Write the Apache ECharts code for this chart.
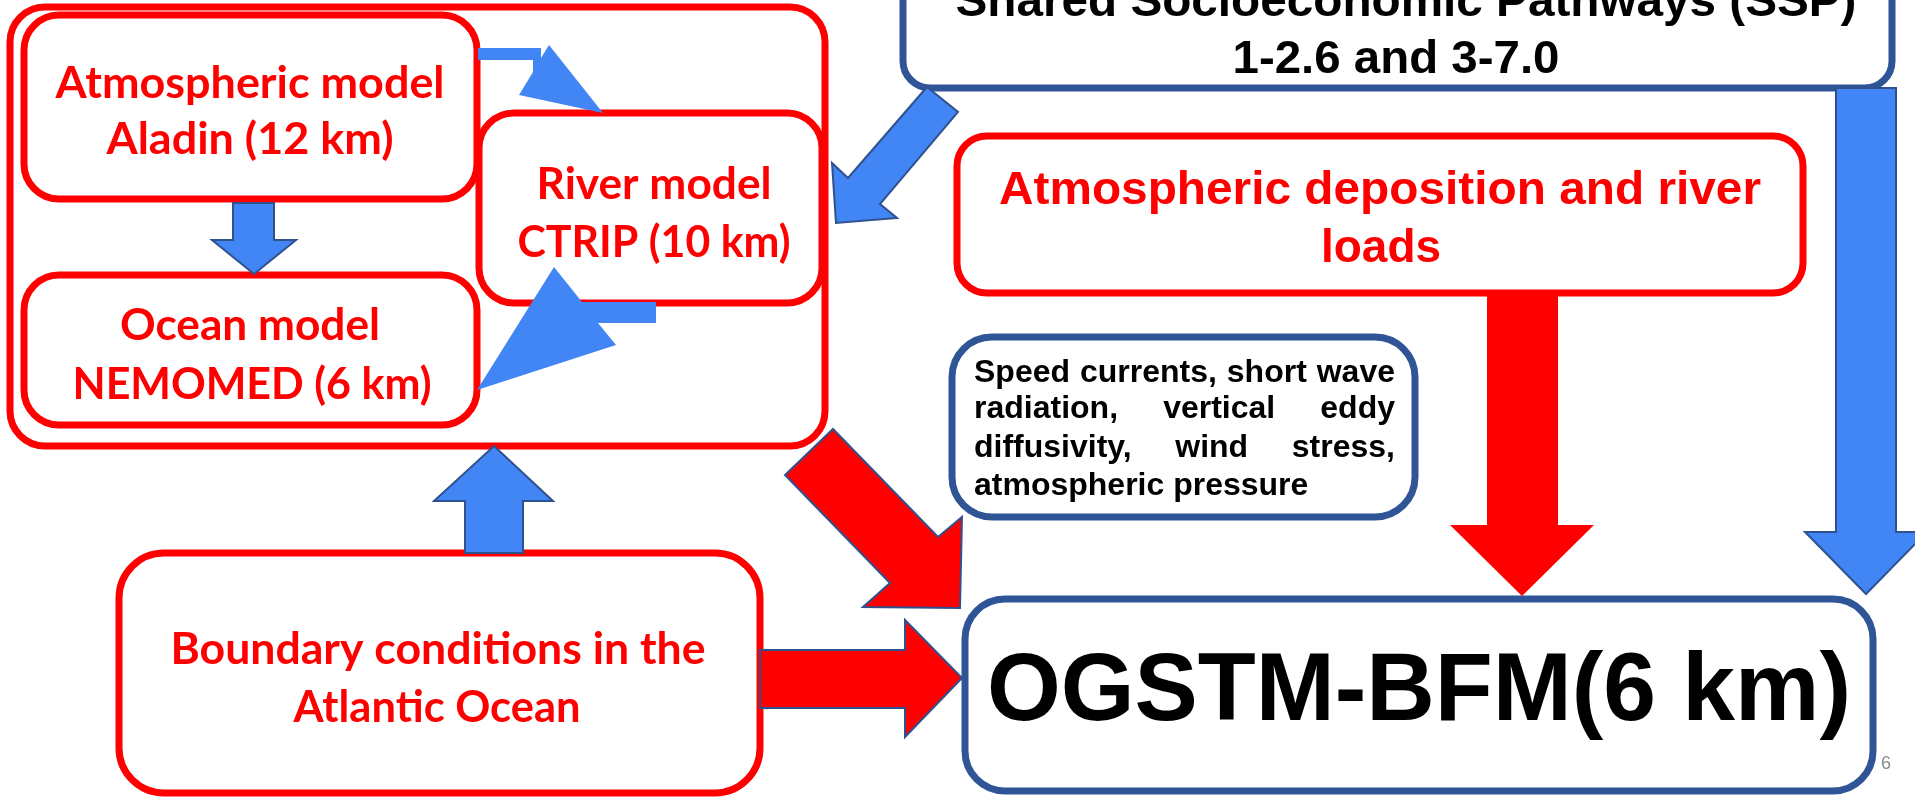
<!DOCTYPE html>
<html>
<head>
<meta charset="utf-8">
<script src="https://cdn.jsdelivr.net/npm/echarts@6/dist/echarts.min.js"></script>
<style>
html,body{margin:0;padding:0;background:#ffffff;}
#chart{width:1915px;height:797px;}
</style>
</head>
<body>
<div id="chart"></div>
<script>
// ---------- content (texts of each node) ----------
const nodeNames = ['Coupled system', 'Atmospheric model', 'Ocean model', 'River model', 'SSP scenarios',
  'Atmospheric deposition', 'Physical forcing', 'Boundary conditions', 'OGSTM-BFM'];
const atmosphereLabels = ['Atmospheric model', 'Aladin (12 km)'];
const oceanLabels = ['Ocean model', 'NEMOMED (6 km)'];
const riverLabels = ['River model', 'CTRIP (10 km)'];
const sspLabels = ['Shared Socioeconomic Pathways (SSP)', '1-2.6 and 3-7.0'];
const depositionLabels = ['Atmospheric deposition and river', 'loads'];
const forcingLabels = ['Speed currents, short wave', 'radiation, vertical eddy', 'diffusivity, wind stress,', 'atmospheric pressure'];
const boundaryLabels = ['Boundary conditions in the', 'Atlantic Ocean'];
const ogstmLabels = ['OGSTM-BFM(6 km)'];
const pageLabels = ['6'];
const nodeLabels = [[], atmosphereLabels, oceanLabels, riverLabels, sspLabels, depositionLabels, forcingLabels, boundaryLabels, ogstmLabels];

// ---------- layout (positions/sizes in diagram units = pixels of a 1915x797 canvas) ----------
const RED = '#ff0000', BLUE_LINE = '#2f5597', BLUE_FILL = '#4285f4', ARROW_LINE = '#2f528f';
const nodeGeom = [
  [10, 7, 825, 446, 35, RED],
  [24, 15, 477, 199, 35, RED],
  [24, 275, 477, 425, 35, RED],
  [479, 113, 822, 303, 35, RED],
  [903, -60, 1892, 88, 27, BLUE_LINE],
  [957, 136, 1803, 293, 30, RED],
  [952, 337, 1415, 517, 40, BLUE_LINE],
  [119, 553, 760, 793, 45, RED],
  [965, 599, 1873, 791, 40, BLUE_LINE]
];
const FONTS = { cal: 'Lato, "Open Sans", sans-serif', ari: '"Liberation Sans", Arial, sans-serif' };
const textLayout = [
  null,
  { f: 'cal', size: 43, color: RED, lines: [[250, 81, 389], [250, 137.5, 287]] },
  { f: 'cal', size: 43, color: RED, lines: [[250, 323, 260], [252, 382, 359]] },
  { f: 'cal', size: 43, color: RED, lines: [[654, 182, 235], [654, 240, 273]] },
  { f: 'ari', size: 47, color: '#000000', lines: [[1406, 0, 901], [1396, 56.5, 327]] },
  { f: 'ari', size: 47, color: RED, lines: [[1380, 187.5, 762], [1381, 245.5, 120]] },
  { f: 'ari', size: 32, color: '#000000', justify: [974, 1395], lines: [[0, 371], [0, 407], [0, 446], [0, 484]] },
  { f: 'cal', size: 43, color: RED, lines: [[438, 647, 535], [437, 705, 287]] },
  { f: 'ari', size: 96, color: '#000000', lines: [[1419, 687, 864]] }
];
const pageLayout = { x: 1886, y: 763, size: 18, color: '#8a8a8a' };
const BASELINE_SHIFT = 0.07; // em: moves the 'middle' anchor onto the cap-height centre

const arrowShapes = [
  { pts: [[478,48],[541,48],[541,58],[549,45],[603,113],[519,95],[533,72],[533,60],[478,60]], fill: BLUE_FILL, line: null },
  { pts: [[233,203],[274,203],[274,240],[296,240],[254,274],[212,240],[233,240]], fill: BLUE_FILL, line: ARROW_LINE },
  { pts: [[656,302],[656,323],[598,323],[616,345],[477,390],[554,267],[582,302]], fill: BLUE_FILL, line: null },
  { pts: [[927,87],[958,112],[880,204],[897,218],[836,223],[832,163],[848,178]], fill: BLUE_FILL, line: ARROW_LINE },
  { pts: [[494,446],[553,501],[523,501],[523,553],[465,553],[465,501],[434,501]], fill: BLUE_FILL, line: ARROW_LINE },
  { pts: [[1836,88],[1896,88],[1896,532],[1927,532],[1866,594],[1805,532],[1836,532]], fill: BLUE_FILL, line: ARROW_LINE },
  { pts: [[1487,295],[1558,295],[1558,525],[1594,525],[1522,596],[1450,525],[1487,525]], fill: RED, line: null },
  { pts: [[833,429],[938,537],[962,517],[960,608],[863,607],[890,583],[785,475]], fill: RED, line: ARROW_LINE },
  { pts: [[760,650],[905,650],[905,620],[962,678],[905,737],[905,708],[760,708]], fill: RED, line: ARROW_LINE }
];

// ---------- text measuring helpers ----------
const mctx = document.createElement('canvas').getContext('2d');
function measure(str, font) { mctx.font = font; return mctx.measureText(str).width; }
function clampScale(s) { return Math.max(0.8, Math.min(1.25, s)); }

const textItems = [];
textLayout.forEach((t, bi) => {
  if (!t) return;
  const font = 'bold ' + t.size + 'px ' + FONTS[t.f];
  const dy = BASELINE_SHIFT * t.size;
  nodeLabels[bi].forEach((line, li) => {
    const L = t.lines[li];
    if (t.justify) {
      const words = line.split(' ');
      const ws = words.map(w => measure(w, font));
      const last = li === nodeLabels[bi].length - 1;
      const total = ws.reduce((a, b) => a + b, 0);
      const gap = last ? measure(' ', font) : (t.justify[1] - t.justify[0] - total) / (words.length - 1);
      let x = t.justify[0];
      words.forEach((w, wi) => {
        textItems.push({ text: w, x: x, y: L[1] + dy, font: font, color: t.color, align: 'left', sx: 1 });
        x += ws[wi] + gap;
      });
    } else {
      const w = measure(line, font);
      textItems.push({ text: line, x: L[0], y: L[1] + dy, font: font, color: t.color, align: 'center', sx: L[2] ? clampScale(L[2] / w) : 1 });
    }
  });
});
textItems.push({ text: pageLabels[0], x: pageLayout.x, y: pageLayout.y + BASELINE_SHIFT * pageLayout.size, font: pageLayout.size + 'px ' + FONTS.ari, color: pageLayout.color, align: 'center', sx: 1 });

// ---------- chart ----------
const chart = echarts.init(document.getElementById('chart'), null, { renderer: 'canvas' });
chart.setOption({
  animation: false,
  backgroundColor: '#ffffff',
  grid: { left: 0, right: 0, top: 0, bottom: 0, containLabel: false },
  xAxis: { type: 'value', min: 0, max: 1915, show: false },
  yAxis: { type: 'value', min: 0, max: 797, inverse: true, show: false },
  tooltip: { show: false },
  series: [
    {
      name: 'nodes', type: 'custom', clip: false, silent: true, z: 1,
      encode: { x: [0, 2], y: [1, 3] },
      data: nodeGeom.map((g, i) => ({ name: nodeNames[i], value: [g[0], g[1], g[2], g[3]] })),
      renderItem: function (params, api) {
        const g = nodeGeom[params.dataIndex];
        const p1 = api.coord([api.value(0), api.value(1)]);
        const p2 = api.coord([api.value(2), api.value(3)]);
        return {
          type: 'rect',
          shape: { x: p1[0], y: p1[1], width: p2[0] - p1[0], height: p2[1] - p1[1], r: g[4] },
          style: { fill: '#ffffff', stroke: g[5], lineWidth: 7 }
        };
      }
    },
    {
      name: 'arrows', type: 'custom', clip: false, silent: true, z: 2,
      encode: { x: 0, y: 1 },
      data: arrowShapes.map(a => a.pts[0]),
      renderItem: function (params, api) {
        const a = arrowShapes[params.dataIndex];
        return {
          type: 'polygon',
          shape: { points: a.pts.map(p => api.coord(p)) },
          style: { fill: a.fill, stroke: a.line || 'none', lineWidth: a.line ? 2 : 0, lineJoin: 'miter' }
        };
      }
    },
    {
      name: 'labels', type: 'custom', clip: false, silent: true, z: 3,
      encode: { x: 0, y: 1 },
      data: textItems.map(t => [t.x, t.y]),
      renderItem: function (params, api) {
        const t = textItems[params.dataIndex];
        const p = api.coord([api.value(0), api.value(1)]);
        return {
          type: 'text', x: p[0], y: p[1], scaleX: t.sx, scaleY: 1,
          style: { text: t.text, x: 0, y: 0, font: t.font, fill: t.color, align: t.align, verticalAlign: 'middle', legacy: false }
        };
      }
    }
  ]
});
</script>
</body>
</html>
